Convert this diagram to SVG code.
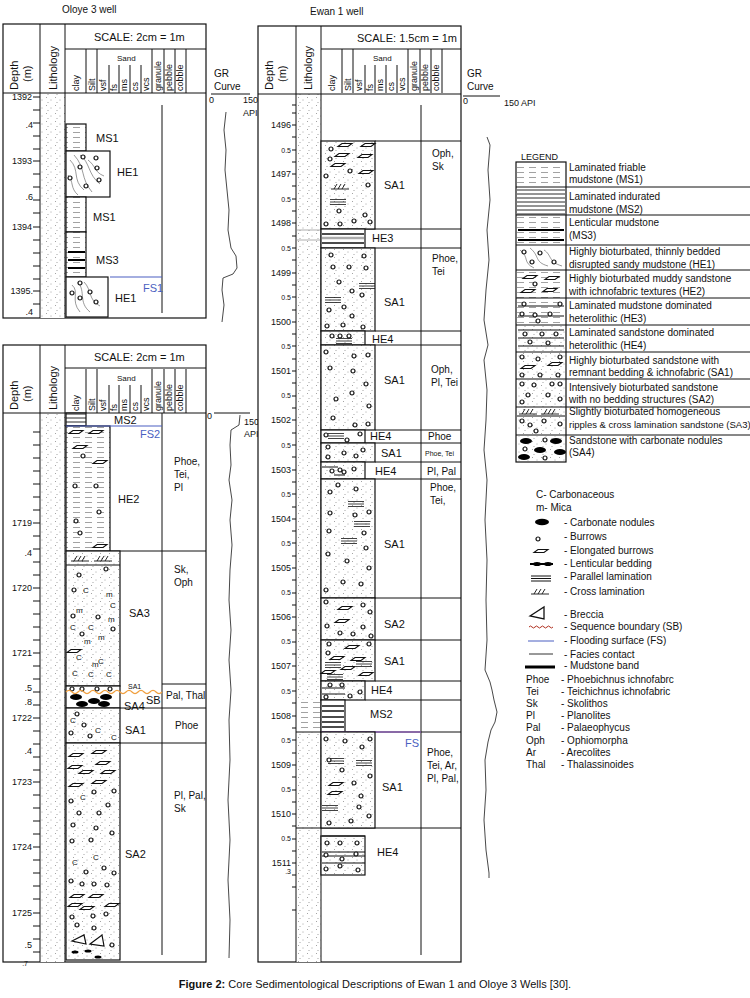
<svg xmlns="http://www.w3.org/2000/svg" xmlns:xlink="http://www.w3.org/1999/xlink" width="750" height="998" viewBox="0 0 750 998">
<style>
text{font-family:"Liberation Sans","Open Sans",sans-serif;fill:#111}
.f{font-size:11px}.s{font-size:10px}.h{font-size:9px}.t{font-size:8px}.tt{font-size:7px}
.bx{stroke:#111;stroke-width:1.2}
.ln{stroke:#111;stroke-width:1;fill:none}
.blue{fill:#4a5fc1}
.gr{fill:none;stroke:#333;stroke-width:0.9}
</style>
<defs>
<pattern id="pDots" width="9" height="8" patternUnits="userSpaceOnUse"><rect width="9" height="8" fill="#fff"/><circle cx="1.5" cy="1.5" r="0.45" fill="#444"/><circle cx="6" cy="4" r="0.45" fill="#444"/><circle cx="3" cy="6.5" r="0.45" fill="#444"/></pattern>
<pattern id="pDash" width="12" height="5" patternUnits="userSpaceOnUse"><rect width="12" height="5" fill="#fff"/><line x1="1" y1="2.5" x2="8" y2="2.5" stroke="#8a8a8a" stroke-width="0.8"/></pattern>
<pattern id="pLam" width="10" height="4" patternUnits="userSpaceOnUse"><rect width="10" height="4" fill="#fff"/><line x1="0" y1="2" x2="10" y2="2" stroke="#111" stroke-width="0.9"/></pattern>
<g id="b"><circle r="2" fill="#fff" stroke="#111" stroke-width="1.2"/></g>
<g id="eb"><path d="M-7,1.5 L-3,-1.5 L7,-1.5 L3,1.5 Z" fill="#fff" stroke="#111" stroke-width="1.1"/></g>
<g id="pl"><path d="M-8,-2.5 H8 M-8,0 H8 M-8,2.5 H8" stroke="#111" stroke-width="0.8" fill="none"/></g>
<g id="xl"><path d="M-9,2 H9 M-6,2 L-3,-3 M-2,2 L1,-3 M2,2 L5,-3" stroke="#111" stroke-width="0.9" fill="none"/></g>
<g id="nod"><ellipse rx="6" ry="3" fill="#000"/></g>
<g id="gh">
<path class="ln" d="M21,0V44M32,0V44M44,16V44M54,16V44M65,16V44M76,16V44M87,0V44M99,0V44M110,0V44M121,0V44"/>
<text class="h" transform="translate(14,42) rotate(-90)">clay</text>
<text class="h" transform="translate(30,42) rotate(-90)">Silt</text>
<text class="h" transform="translate(41,42) rotate(-90)">vsf</text>
<text class="h" transform="translate(52,42) rotate(-90)">fs</text>
<text class="h" transform="translate(62,42) rotate(-90)">ms</text>
<text class="h" transform="translate(73,42) rotate(-90)">cs</text>
<text class="h" transform="translate(84,42) rotate(-90)">vcs</text>
<text class="h" transform="translate(96,42) rotate(-90)">granule</text>
<text class="h" transform="translate(107,42) rotate(-90)">pebble</text>
<text class="h" transform="translate(118,42) rotate(-90)">cobble</text>
<text class="t" x="52" y="12">Sand</text>
</g>
</defs>

<text class="s" x="62" y="13">Oloye 3  well</text>
<text class="s" x="310" y="15">Ewan 1 well</text>

<g id="oloye-top">
<rect x="3" y="24" width="203" height="294" fill="#fff" class="bx"/>
<rect x="40" y="93" width="25" height="225" fill="url(#pDots)"/>
<path class="ln" d="M40,24V318M65,24V318M3,93H206M65,49H206"/>
<use href="#gh" x="65" y="49"/>
<text class="f" x="94" y="41">SCALE: 2cm = 1m</text>
<text class="f" transform="translate(18,90) rotate(-90)">Depth</text>
<text class="f" transform="translate(31,82) rotate(-90)">(m)</text>
<text class="f" transform="translate(57,90) rotate(-90)">Lithology</text>
<g class="h" text-anchor="end"><text x="32" y="100">1392</text><text x="33" y="128">.4</text><text x="32" y="164">1393</text><text x="33" y="200">.6</text><text x="32" y="230">1394</text><text x="33" y="294">1395.</text><text x="33" y="315">.4</text></g>
<path class="ln" d="M33,97H40M33,110H40M33,123H40M33,136H40M33,149H40M33,161H40M33,174H40M33,187H40M33,200H40M33,213H40M33,227H40M33,240H40M33,253H40M33,266H40M33,279H40M33,291H40M33,304H40"/>
<path class="ln" d="M162,105V313"/>
<rect x="66" y="124" width="20" height="27" fill="url(#pDash)" class="bx"/>
<rect x="66" y="151" width="44" height="46" fill="#fff" class="bx"/>
<path d="M70,160 C80,170 72,180 84,190 M74,155 C86,168 80,178 92,192 M80,155 C90,162 88,175 100,184 M68,175 C74,182 70,188 78,195 M88,160 C96,166 94,172 104,176" stroke="#555" stroke-width="0.6" fill="none"/>
<use href="#b" x="83" y="157"/><use href="#b" x="96" y="158"/><use href="#b" x="80" y="167"/><use href="#b" x="97" y="168"/><use href="#b" x="70" y="178"/><use href="#b" x="99" y="180"/><use href="#b" x="86" y="186"/>
<rect x="66" y="197" width="20" height="35" fill="url(#pDash)" class="bx"/>
<rect x="66" y="232" width="20" height="45" fill="url(#pDash)" class="bx"/>
<path d="M68,252H85M68,260H85M68,268H85" stroke="#000" stroke-width="2.2"/>
<path d="M110,277H162" stroke="#4a5fc1" stroke-width="1.2"/>
<rect x="66" y="277" width="42" height="40" fill="#fff" class="bx"/>
<path d="M72,285 C80,292 70,300 80,312 M78,282 C86,292 78,302 90,312 M84,282 C92,290 88,300 100,306" stroke="#555" stroke-width="0.6" fill="none"/>
<use href="#b" x="80" y="283"/><use href="#b" x="72" y="293"/><use href="#b" x="90" y="292"/><use href="#b" x="96" y="302"/><use href="#b" x="80" y="298"/>
<text class="f" x="96" y="142">MS1</text><text class="f" x="117" y="176">HE1</text><text class="f" x="93" y="221">MS1</text><text class="f" x="96" y="264">MS3</text><text class="f blue" x="143" y="292" font-size="13">FS1</text><text class="f" x="115" y="302">HE1</text>
</g>
<g id="gr-oloye-top">
<text class="s" x="214" y="77">GR</text><text class="s" x="214" y="90">Curve</text>
<path class="ln" d="M211,94H250"/>
<text class="h" x="209" y="103">0</text><text class="h" x="243" y="103">150</text><text class="h" x="243" y="116">API</text>
<path class="gr" d="M226,112 L224,130 226,150 225,170 227,190 229,210 228,230 231,248 236,256 237,268 233,274 223,278 222,290 224,305 222,322"/>
</g>

<g id="oloye-bottom">
<rect x="3" y="345" width="203" height="617" fill="#fff" class="bx"/>
<rect x="40" y="413" width="25" height="549" fill="url(#pDots)"/>
<path class="ln" d="M40,345V962M65,345V962M3,413H206M65,368H206"/>
<use href="#gh" x="65" y="369"/>
<text class="f" x="94" y="361">SCALE: 2cm = 1m</text>
<text class="f" transform="translate(18,410) rotate(-90)">Depth</text>
<text class="f" transform="translate(31,402) rotate(-90)">(m)</text>
<text class="f" transform="translate(57,410) rotate(-90)">Lithology</text>
<g class="h" text-anchor="end"><text x="32" y="556">.4</text><text x="32" y="526">1719</text><text x="32" y="591">1720</text><text x="32" y="656">1721</text><text x="32" y="691">.5</text><text x="32" y="705">.8</text><text x="32" y="721">1722</text><text x="32" y="754">.4</text><text x="32" y="785">1723</text><text x="32" y="850">1724</text><text x="32" y="916">1725</text><text x="32" y="948">.5</text><text x="28" y="966" class="tt">.7</text></g>
<path class="ln" d="M33,432H40M33,445H40M33,458H40M33,471H40M33,484H40M33,497H40M33,510H40M33,523H40M33,536H40M33,549H40M33,562H40M33,575H40M33,588H40M33,601H40M33,614H40M33,627H40M33,640H40M33,653H40M33,666H40M33,679H40M33,692H40M33,705H40M33,718H40M33,731H40M33,744H40M33,757H40M33,770H40M33,782H40M33,795H40M33,808H40M33,821H40M33,834H40M33,847H40M33,860H40M33,873H40M33,886H40M33,899H40M33,913H40M33,926H40M33,939H40M33,952H40"/>
<path class="ln" d="M162,413V955M110,551H206M120,708H206M120,743H206M162,684H206"/>
<rect x="66" y="413" width="20" height="13" fill="url(#pLam)" class="bx"/>
<rect x="66" y="426" width="44" height="125" fill="url(#pDash)" class="bx"/>
<path d="M66,426H162" stroke="#4a5fc1" stroke-width="1.2"/>
<use href="#eb" x="76" y="432"/><use href="#eb" x="96" y="432"/><use href="#eb" x="80" y="447"/><use href="#b" x="83" y="456"/><use href="#eb" x="100" y="462"/><use href="#b" x="75" y="486"/><use href="#b" x="96" y="486"/><use href="#b" x="99" y="512"/><use href="#b" x="76" y="521"/><use href="#b" x="80" y="533"/><use href="#eb" x="100" y="546"/>
<rect x="66" y="551" width="54" height="135" fill="url(#pDots)" class="bx"/>
<path class="ln" d="M66,565H120"/>
<use href="#xl" x="80" y="559"/><use href="#xl" x="103" y="559"/>
<g class="t"><text x="83" y="593">C</text><text x="106" y="597">m</text><text x="110" y="608">C</text><text x="76" y="613">m</text><text x="108" y="622">m</text><text x="70" y="630">C</text><text x="88" y="630">C</text><text x="98" y="640">m</text><text x="84" y="644">m</text><text x="76" y="660">C</text><text x="98" y="664">C</text><text x="72" y="676">C</text><text x="88" y="677">C</text><text x="106" y="677">C</text><text x="92" y="667">m</text></g>
<use href="#b" x="79" y="575"/><use href="#b" x="106" y="569"/><use href="#b" x="74" y="590"/><use href="#b" x="73" y="616"/><use href="#b" x="98" y="617"/><use href="#b" x="113" y="629"/><use href="#b" x="82" y="634"/><use href="#eb" x="74" y="651"/>
<rect x="66" y="686" width="54" height="22" fill="#fff" class="bx"/>
<use href="#b" x="72" y="689"/><use href="#b" x="82" y="689"/><use href="#b" x="97" y="689"/><use href="#b" x="110" y="689"/>
<use href="#nod" x="76" y="697"/><use href="#nod" x="106" y="697"/><use href="#nod" x="82" y="704"/><use href="#nod" x="104" y="704"/><use href="#nod" x="94" y="701"/>
<path d="M66,692 q3,-3 6,0 t6,0 t6,0 t6,0 t6,0 t6,0 t6,0 t6,0 t6,0 t6,0 t6,0 t6,0 t6,0 t6,0 t6,0 t6,0" fill="none" stroke="#f0a040" stroke-width="1.2"/>
<rect x="66" y="708" width="54" height="35" fill="url(#pDots)" class="bx"/>
<use href="#b" x="77" y="714"/><use href="#b" x="84" y="725"/><use href="#b" x="71" y="733"/><use href="#b" x="90" y="736"/><text class="t" x="70" y="723">C</text><text class="t" x="95" y="733">C</text><text class="t" x="111" y="740">C</text>
<rect x="66" y="743" width="54" height="217" fill="url(#pDots)" class="bx"/>
<use href="#eb" x="76" y="755"/><use href="#eb" x="99" y="752"/><use href="#eb" x="75" y="767"/><use href="#eb" x="103" y="763"/><use href="#eb" x="86" y="772"/><use href="#eb" x="108" y="772"/><use href="#eb" x="76" y="785"/><use href="#eb" x="99" y="782"/>
<use href="#b" x="71" y="801"/><use href="#b" x="94" y="792"/><use href="#b" x="114" y="791"/><use href="#b" x="108" y="805"/><use href="#b" x="79" y="813"/><use href="#b" x="99" y="813"/><use href="#b" x="73" y="825"/><use href="#b" x="96" y="828"/><use href="#b" x="112" y="833"/><use href="#b" x="72" y="841"/><use href="#b" x="91" y="840"/><use href="#b" x="86" y="872"/><use href="#b" x="104" y="868"/><use href="#b" x="114" y="873"/><use href="#b" x="71" y="881"/><use href="#b" x="82" y="884"/><use href="#b" x="94" y="884"/><use href="#b" x="107" y="885"/>
<use href="#eb" x="77" y="896"/><use href="#eb" x="96" y="896"/><use href="#eb" x="75" y="905"/><use href="#eb" x="87" y="908"/><use href="#eb" x="112" y="905"/><use href="#b" x="72" y="917"/><use href="#b" x="93" y="916"/><use href="#b" x="106" y="914"/><use href="#b" x="77" y="925"/><use href="#b" x="94" y="928"/><use href="#b" x="112" y="945"/>
<text class="t" x="80" y="800">C</text><text class="t" x="72" y="865">C</text><text class="t" x="93" y="860">C</text>
<path d="M72,941 L84,935 86,944 Z M90,944 L102,935 104,946 Z" fill="#fff" stroke="#111" stroke-width="1.2"/>
<ellipse cx="75" cy="952" rx="3.5" ry="1.6"/><ellipse cx="88" cy="951" rx="3.5" ry="1.6"/><ellipse cx="98" cy="957" rx="3.5" ry="1.6"/>
<text class="f" x="114" y="424">MS2</text><text class="f blue" x="140" y="438" font-size="13">FS2</text><text class="f" x="118" y="503">HE2</text>
<text class="s" x="174" y="465">Phoe,</text><text class="s" x="174" y="478">Tei,</text><text class="s" x="174" y="491">Pl</text>
<text class="s" x="174" y="573">Sk,</text><text class="s" x="174" y="586">Oph</text><text class="f" x="129" y="617">SA3</text>
<text class="tt" x="128" y="689">SA1</text><text class="f" x="124" y="710">SA4</text><text class="f" x="146" y="704" font-size="12" fill="#f0a040">SB</text><text class="s" x="166" y="699">Pal, Thal</text>
<text class="f" x="125" y="734">SA1</text><text class="s" x="175" y="729">Phoe</text>
<text class="s" x="174" y="799">Pl, Pal,</text><text class="s" x="174" y="812">Sk</text><text class="f" x="125" y="858">SA2</text>
</g>
<g id="gr-oloye-bottom">
<path class="ln" d="M214,413H250"/>
<text class="h" x="207" y="419">0</text><text class="h" x="244" y="425">150</text><text class="h" x="244" y="437">API</text>
<path class="gr" d="M240,415 L239,425 231,430 230,445 231,465 229,480 232,500 230,520 232,545 230,570 229,600 231,630 229,660 231,690 229,720 230,760 228,800 230,840 228,880 230,920 229,958"/>
</g>

<g id="ewan">
<rect x="258" y="26" width="203" height="936" fill="#fff" class="bx"/>
<rect x="296" y="94" width="25" height="868" fill="url(#pDots)"/>
<rect x="297" y="700" width="23" height="32" fill="url(#pDash)"/>
<path class="ln" d="M296,26V962M321,26V962M258,94H461M321,49H461"/>
<use href="#gh" x="321" y="49"/>
<text class="f" x="357" y="42">SCALE: 1.5cm = 1m</text>
<text class="f" transform="translate(273,90) rotate(-90)">Depth</text>
<text class="f" transform="translate(286,82) rotate(-90)">(m)</text>
<text class="f" transform="translate(312,90) rotate(-90)">Lithology</text>
<g class="h" text-anchor="end"><text x="291" y="128">1496</text><text x="291" y="177">1497</text><text x="291" y="226">1498</text><text x="291" y="276">1499</text><text x="291" y="325">1500</text><text x="291" y="374">1501</text><text x="291" y="423">1502</text><text x="291" y="473">1503</text><text x="291" y="522">1504</text><text x="291" y="571">1505</text><text x="291" y="620">1506</text><text x="291" y="669">1507</text><text x="291" y="719">1508</text><text x="291" y="768">1509</text><text x="291" y="817">1510</text><text x="291" y="866">1511</text></g>
<g class="tt" text-anchor="end"><text x="291" y="153">0.5</text><text x="291" y="202">0.5</text><text x="291" y="251">0.5</text><text x="291" y="300">0.5</text><text x="291" y="349">0.5</text><text x="291" y="398">0.5</text><text x="291" y="448">0.5</text><text x="291" y="497">0.5</text><text x="291" y="546">0.5</text><text x="291" y="595">0.5</text><text x="291" y="644">0.5</text><text x="291" y="694">0.5</text><text x="291" y="743">0.5</text><text x="291" y="792">0.5</text><text x="291" y="841">0.5</text><text x="291" y="874">.3</text></g>
<path class="ln" d="M292,105H296M292,113H296M292,125H296M292,137H296M292,150H296M292,162H296M292,174H296M292,186H296M292,199H296M292,211H296M292,223H296M292,236H296M292,248H296M292,260H296M292,273H296M292,285H296M292,297H296M292,310H296M292,322H296M292,334H296M292,346H296M292,359H296M292,371H296M292,383H296M292,396H296M292,408H296M292,420H296M292,433H296M292,445H296M292,457H296M292,470H296M292,482H296M292,494H296M292,507H296M292,519H296M292,531H296M292,543H296M292,556H296M292,568H296M292,580H296M292,593H296M292,605H296M292,617H296M292,630H296M292,642H296M292,654H296M292,666H296M292,679H296M292,691H296M292,703H296M292,716H296M292,728H296M292,740H296M292,753H296M292,765H296M292,777H296M292,790H296M292,802H296M292,814H296M292,826H296M292,839H296M292,851H296M292,863H296M292,875H296M292,887H296M292,910H296"/>
<path class="ln" d="M421,105V955M375,141H461M365,229H461M365,248H461M375,331H461M365,345H461M375,430H461M365,443H461M375,462H461M365,479H461M375,598H461M375,640H461M375,681H461M365,700H461M345,732H461M296,732H321M296,828H461"/>
<path d="M297,230H320M297,240H320" stroke="#999" stroke-width="0.8"/>
<rect x="321" y="141" width="54" height="88" fill="url(#pDots)" class="bx"/>
<use href="#eb" x="345" y="145"/><use href="#eb" x="368" y="145"/><use href="#eb" x="342" y="155"/><use href="#eb" x="365" y="156"/><use href="#eb" x="338" y="165"/><use href="#eb" x="366" y="172"/><use href="#b" x="331" y="149"/><use href="#b" x="330" y="159"/><use href="#b" x="326" y="176"/><use href="#b" x="350" y="171"/><use href="#b" x="368" y="185"/><use href="#xl" x="340" y="187"/><use href="#pl" x="338" y="202"/><use href="#b" x="339" y="211"/><use href="#b" x="365" y="215"/><use href="#b" x="326" y="224"/><use href="#b" x="340" y="224"/><use href="#b" x="354" y="221"/><use href="#b" x="370" y="222"/>
<rect x="321" y="229" width="44" height="19" fill="#fff" class="bx"/>
<path d="M322,234H364M322,243H364" stroke="#111" stroke-width="1.6"/><path d="M322,238H364" stroke="#aaa" stroke-width="2.5"/>
<rect x="321" y="248" width="54" height="83" fill="url(#pDots)" class="bx"/>
<use href="#b" x="331" y="255"/><use href="#b" x="364" y="256"/><use href="#b" x="333" y="267"/><use href="#b" x="349" y="267"/><use href="#b" x="366" y="268"/><use href="#b" x="339" y="282"/><use href="#pl" x="367" y="286"/><use href="#b" x="352" y="291"/><use href="#b" x="362" y="295"/><use href="#pl" x="333" y="300"/><use href="#b" x="329" y="310"/><use href="#b" x="344" y="307"/><use href="#b" x="352" y="316"/><use href="#b" x="327" y="326"/><use href="#b" x="343" y="325"/><use href="#b" x="363" y="327"/>
<rect x="321" y="331" width="44" height="14" fill="url(#pDots)" class="bx"/>
<use href="#b" x="332" y="336"/><use href="#b" x="340" y="336"/><use href="#b" x="349" y="336"/><use href="#pl" x="344" y="341"/>
<rect x="321" y="345" width="54" height="85" fill="url(#pDots)" class="bx"/>
<use href="#b" x="326" y="352"/><use href="#b" x="354" y="356"/><use href="#b" x="368" y="355"/><use href="#b" x="330" y="368"/><use href="#b" x="353" y="371"/><use href="#b" x="366" y="384"/><use href="#b" x="352" y="393"/><use href="#b" x="336" y="399"/><use href="#b" x="369" y="406"/><use href="#b" x="333" y="418"/><use href="#b" x="355" y="425"/><use href="#b" x="368" y="424"/>
<rect x="321" y="430" width="44" height="13" fill="#fff" class="bx"/>
<use href="#pl" x="336" y="436"/><use href="#b" x="326" y="435"/><use href="#b" x="360" y="434"/><use href="#b" x="347" y="440"/>
<rect x="321" y="443" width="54" height="19" fill="url(#pDots)" class="bx"/>
<use href="#b" x="328" y="447"/><use href="#b" x="344" y="453"/><use href="#b" x="356" y="456"/><use href="#b" x="328" y="457"/><use href="#b" x="363" y="450"/>
<rect x="321" y="462" width="44" height="17" fill="url(#pDots)" class="bx"/>
<path class="ln" d="M322,467H338M334,475H345"/><use href="#b" x="332" y="471"/><use href="#b" x="340" y="470"/><use href="#b" x="344" y="472"/><use href="#b" x="354" y="469"/>
<rect x="321" y="479" width="54" height="119" fill="url(#pDots)" class="bx"/>
<use href="#b" x="338" y="485"/><use href="#b" x="330" y="492"/><use href="#b" x="356" y="489"/><use href="#pl" x="356" y="504"/><use href="#b" x="330" y="513"/><use href="#b" x="355" y="515"/><use href="#b" x="369" y="512"/><use href="#pl" x="362" y="524"/><use href="#b" x="329" y="531"/><use href="#b" x="364" y="533"/><use href="#pl" x="349" y="541"/><use href="#b" x="366" y="548"/><use href="#b" x="328" y="554"/><use href="#b" x="347" y="561"/><use href="#b" x="369" y="568"/><use href="#b" x="343" y="582"/><use href="#b" x="361" y="584"/><use href="#b" x="326" y="590"/>
<rect x="321" y="598" width="54" height="42" fill="url(#pDots)" class="bx"/>
<use href="#b" x="326" y="602"/><use href="#b" x="363" y="605"/><use href="#eb" x="345" y="608"/><use href="#b" x="370" y="612"/><use href="#eb" x="342" y="621"/><use href="#b" x="327" y="626"/><use href="#b" x="363" y="627"/><use href="#b" x="340" y="633"/><use href="#b" x="353" y="634"/><use href="#b" x="371" y="636"/>
<rect x="321" y="640" width="54" height="41" fill="url(#pDots)" class="bx"/>
<use href="#b" x="329" y="644"/><use href="#b" x="369" y="644"/><use href="#eb" x="352" y="647"/><use href="#b" x="328" y="653"/><use href="#eb" x="337" y="658"/><use href="#eb" x="358" y="659"/><use href="#pl" x="333" y="665"/><use href="#pl" x="364" y="664"/><use href="#eb" x="328" y="672"/><use href="#eb" x="348" y="668"/><use href="#eb" x="366" y="674"/><use href="#pl" x="335" y="677"/>
<rect x="321" y="681" width="44" height="19" fill="url(#pDots)" class="bx"/>
<path class="ln" d="M322,688H345M322,694H345"/><use href="#b" x="330" y="685"/><use href="#b" x="342" y="685"/><use href="#b" x="326" y="697"/><use href="#b" x="350" y="696"/><use href="#b" x="360" y="692"/>
<rect x="321" y="700" width="24" height="32" fill="#fff" class="bx"/>
<path d="M322,706H344M322,711H344M322,717H344M322,722H344M322,727H344" stroke="#111" stroke-width="1.4"/>
<path d="M321,732H421" stroke="#8a5fb0" stroke-width="1.3"/>
<rect x="321" y="732" width="54" height="96" fill="url(#pDots)" class="bx"/>
<use href="#b" x="326" y="739"/><use href="#b" x="345" y="741"/><use href="#b" x="370" y="739"/><use href="#b" x="362" y="747"/><use href="#pl" x="336" y="761"/><use href="#pl" x="364" y="763"/><use href="#b" x="329" y="760"/><use href="#b" x="342" y="770"/><use href="#b" x="370" y="776"/><use href="#eb" x="336" y="784"/><use href="#b" x="354" y="783"/><use href="#eb" x="335" y="793"/><use href="#b" x="361" y="796"/><use href="#pl" x="330" y="808"/><use href="#b" x="359" y="807"/><use href="#b" x="369" y="816"/><use href="#b" x="329" y="823"/><use href="#b" x="351" y="821"/>
<rect x="321" y="836" width="44" height="39" fill="url(#pDots)" class="bx"/>
<path class="ln" d="M322,836H365M322,852H365M322,856H365M322,863H365"/>
<use href="#b" x="327" y="843"/><use href="#b" x="340" y="843"/><use href="#b" x="357" y="843"/><use href="#b" x="326" y="855"/><use href="#b" x="342" y="859"/><use href="#b" x="356" y="854"/><use href="#b" x="326" y="869"/><use href="#b" x="340" y="866"/><use href="#b" x="358" y="870"/>
<text class="f" x="384" y="189">SA1</text><text class="s" x="432" y="157">Oph,</text><text class="s" x="432" y="170">Sk</text>
<text class="f" x="372" y="242">HE3</text>
<text class="s" x="432" y="262">Phoe,</text><text class="s" x="432" y="275">Tei</text><text class="f" x="384" y="306">SA1</text>
<text class="f" x="372" y="343">HE4</text>
<text class="s" x="431" y="373">Oph,</text><text class="s" x="431" y="386">Pl, Tei</text><text class="f" x="384" y="384">SA1</text>
<text class="f" x="370" y="440">HE4</text><text class="s" x="428" y="440">Phoe</text>
<text class="f" x="381" y="457">SA1</text><text class="tt" x="425" y="456">Phoe, Tei</text>
<text class="f" x="375" y="475">HE4</text><text class="s" x="427" y="475">Pl, Pal</text>
<text class="s" x="430" y="491">Phoe,</text><text class="s" x="430" y="504">Tei,</text><text class="f" x="384" y="548">SA1</text>
<text class="f" x="384" y="628">SA2</text><text class="f" x="384" y="665">SA1</text>
<text class="f" x="371" y="694">HE4</text><text class="f" x="370" y="718">MS2</text>
<text class="f blue" x="405" y="747" font-size="13">FS</text>
<text class="s" x="427" y="756">Phoe,</text><text class="s" x="427" y="769">Tei, Ar,</text><text class="s" x="427" y="782">Pl, Pal,</text><text class="f" x="382" y="791">SA1</text>
<text class="f" x="377" y="856">HE4</text>
</g>
<g id="gr-ewan">
<text class="s" x="467" y="77">GR</text><text class="s" x="467" y="90">Curve</text>
<path class="ln" d="M463,96H500"/>
<text class="h" x="463" y="104">0</text><text class="h" x="504" y="106">150 API</text>
<path class="gr" d="M487,137 L490,145 488,170 490,200 487,230 489,260 486,290 484,320 488,345 484,360 487,390 486,420 484,450 487,480 485,520 487,560 486,600 487,640 485,670 490,682 492,690 494,700 497,712 495,722 491,730 488,742 485,760 486,790 484,820 486,850 489,873 489,878"/>
</g>

<g id="legend">
<text class="h" x="521" y="160">LEGEND</text>
<path class="ln" d="M566,187H750M566,215H750M566,245H750M566,270H750M566,298H750M566,325H750M566,352H750M566,379H750M566,407H750M566,435H750"/>
<rect x="516" y="162" width="50" height="300" fill="#fff" class="bx"/>
<rect x="517" y="163" width="48" height="24" fill="url(#pDash)"/>
<rect x="517" y="188" width="48" height="27" fill="url(#pLam)"/>
<rect x="517" y="216" width="48" height="29" fill="url(#pDash)"/><path d="M518,230H564M518,240H564" stroke="#000" stroke-width="2"/>
<path d="M520,250 C530,258 522,262 534,268 M530,248 C540,256 534,262 548,266 M544,250 C552,255 548,262 562,266" stroke="#555" stroke-width="0.6" fill="none"/>
<use href="#b" x="524" y="252"/><use href="#b" x="540" y="253"/><use href="#b" x="532" y="262"/><use href="#b" x="554" y="262"/>
<rect x="517" y="271" width="48" height="27" fill="url(#pDash)"/><use href="#eb" x="530" y="277"/><use href="#eb" x="552" y="278"/><use href="#eb" x="528" y="291"/><use href="#eb" x="550" y="290"/><use href="#b" x="535" y="284"/>
<rect x="517" y="299" width="48" height="26" fill="url(#pDash)"/><path class="ln" d="M518,306H564M518,316H564"/><use href="#b" x="524" y="304"/><use href="#b" x="560" y="304"/><use href="#b" x="522" y="314"/><use href="#b" x="535" y="315"/><use href="#b" x="550" y="314"/><use href="#b" x="538" y="321"/>
<rect x="517" y="326" width="48" height="26" fill="url(#pDots)"/><path class="ln" d="M518,330H564M518,338H564M518,346H564"/><use href="#b" x="525" y="334"/><use href="#b" x="542" y="334"/><use href="#b" x="556" y="334"/><use href="#b" x="530" y="342"/><use href="#b" x="548" y="343"/>
<rect x="517" y="353" width="48" height="26" fill="url(#pDots)"/><use href="#b" x="522" y="357"/><use href="#b" x="538" y="359"/><use href="#b" x="560" y="357"/><use href="#eb" x="528" y="367"/><use href="#eb" x="555" y="364"/><use href="#b" x="522" y="375"/><use href="#b" x="540" y="375"/><use href="#b" x="558" y="375"/>
<rect x="517" y="380" width="48" height="27" fill="url(#pDots)"/><use href="#b" x="522" y="384"/><use href="#b" x="534" y="385"/><use href="#b" x="552" y="384"/><use href="#b" x="560" y="384"/><use href="#b" x="528" y="395"/><use href="#b" x="548" y="395"/><use href="#b" x="560" y="399"/><use href="#b" x="522" y="402"/>
<rect x="517" y="408" width="48" height="27" fill="url(#pDots)"/><path class="ln" d="M517,416H565"/><use href="#xl" x="528" y="412"/><use href="#xl" x="550" y="412"/><use href="#b" x="522" y="421"/><use href="#b" x="530" y="425"/><use href="#b" x="544" y="421"/><use href="#b" x="560" y="424"/><use href="#b" x="536" y="431"/>
<rect x="517" y="436" width="48" height="25" fill="url(#pDots)"/><use href="#nod" x="526" y="441"/><use href="#nod" x="556" y="441"/><use href="#nod" x="540" y="450"/><use href="#nod" x="560" y="452"/><use href="#nod" x="524" y="457"/><use href="#b" x="545" y="440"/><use href="#b" x="525" y="449"/><use href="#b" x="545" y="458"/>
<path class="ln" d="M516,187H566M516,215H566M516,245H566M516,270H566M516,298H566M516,325H566M516,352H566M516,379H566M516,407H566M516,435H566"/>
<g class="s">
<text x="569" y="171">Laminated friable</text><text x="569" y="183">mudstone (MS1)</text>
<text x="569" y="200">Laminated indurated</text><text x="569" y="213">mudstone (MS2)</text>
<text x="569" y="226">Lenticular mudstone</text><text x="569" y="239">(MS3)</text>
<text x="569" y="255">Highly bioturbated, thinnly bedded</text><text x="569" y="268">disrupted sandy mudstone (HE1)</text>
<text x="569" y="282">Highly bioturbated muddy sandstone</text><text x="569" y="295">with ichnofabric textures (HE2)</text>
<text x="569" y="309">Laminated mudstone dominated</text><text x="569" y="322">heterolithic (HE3)</text>
<text x="569" y="336">Laminated sandstone dominated</text><text x="569" y="349">heterolithic (HE4)</text>
<text x="569" y="364">Highly bioturbated sandstone with</text><text x="569" y="376">remnant bedding &amp; ichnofabric (SA1)</text>
<text x="569" y="391">Intensively bioturbated sandstone</text><text x="569" y="403">with no bedding structures (SA2)</text>
<text x="569" y="415">Slightly bioturbated homogeneous</text><text x="569" y="428" font-size="9.5">ripples &amp; cross lamination sandstone  (SA3)</text>
<text x="569" y="444">Sandstone with carbonate nodules</text><text x="569" y="456">(SA4)</text>
</g>
</g>

<g id="symbols">
<g class="s">
<text x="536" y="498">C- Carbonaceous</text><text x="536" y="511">m- Mica</text>
<text x="564" y="526">- Carbonate nodules</text><text x="564" y="540">- Burrows</text><text x="564" y="554">- Elongated burrows</text><text x="564" y="567">- Lenticular bedding</text><text x="564" y="580">- Parallel lamination</text><text x="564" y="595">- Cross lamination</text>
<text x="564" y="618">- Breccia</text><text x="564" y="630">- Sequence boundary (SB)</text><text x="564" y="644">- Flooding surface (FS)</text><text x="564" y="658">- Facies contact</text><text x="564" y="669">- Mudstone band</text>
<text x="526" y="683">Phoe</text><text x="561" y="683">- Phoebichnus ichnofabrc</text>
<text x="526" y="695">Tei</text><text x="561" y="695">- Teichichnus ichnofabric</text>
<text x="526" y="707">Sk</text><text x="561" y="707">- Skolithos</text>
<text x="526" y="719">Pl</text><text x="561" y="719">- Planolites</text>
<text x="526" y="731">Pal</text><text x="561" y="731">- Palaeophycus</text>
<text x="526" y="744">Oph</text><text x="561" y="744">- Ophiomorpha</text>
<text x="526" y="756">Ar</text><text x="561" y="756">- Arecolites</text>
<text x="526" y="768">Thal</text><text x="561" y="768">- Thalassinoides</text>
</g>
<ellipse cx="542" cy="522" rx="7" ry="3.2"/>
<use href="#b" x="538" y="539"/>
<use href="#eb" x="541" y="551"/>
<path d="M530,564H553" stroke="#000" stroke-width="2"/><ellipse cx="537" cy="564" rx="4" ry="2"/><ellipse cx="548" cy="564" rx="4" ry="2"/>
<path d="M531,576H551M531,578.5H551M531,581H551" stroke="#111" stroke-width="1"/>
<use href="#xl" x="540" y="592"/>
<path d="M530,616 L544,607 544,619 Z" fill="none" stroke="#111" stroke-width="1.3"/>
<path d="M529,627 q1.5,-2 3,0 t3,0 t3,0 t3,0 t3,0 t3,0 t3,0 t3,0" fill="none" stroke="#b03020" stroke-width="1"/>
<path d="M528,641H554" stroke="#4a5fc1" stroke-width="1"/>
<path d="M529,654H553" stroke="#333" stroke-width="1"/>
<path d="M525,667H555" stroke="#000" stroke-width="3"/>
</g>

<text x="375" y="988" text-anchor="middle" font-size="11"><tspan font-weight="bold">Figure 2:</tspan> Core Sedimentological Descriptions of Ewan 1 and Oloye 3 Wells [30].</text>
</svg>
